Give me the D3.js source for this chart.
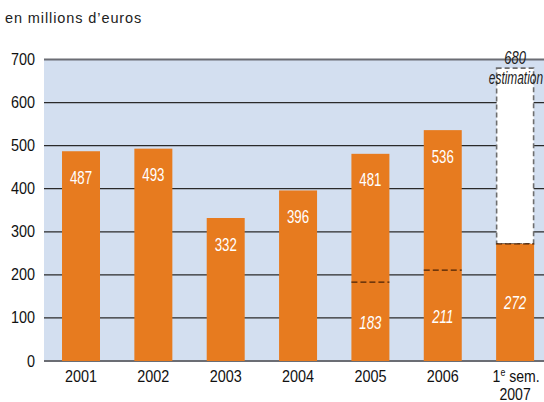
<!DOCTYPE html>
<html>
<head>
<meta charset="utf-8">
<script src="https://cdn.jsdelivr.net/npm/d3@7"></script>
<style>
  body { margin: 0; background: #fff; }
  svg { display: block; }
</style>
</head>
<body>
<svg id="chart" width="544" height="402"></svg>
<script>
// Data
const categories = ['2001', '2002', '2003', '2004', '2005', '2006', '2007S1'];
const totals = [487, 493, 332, 396, 481, 536, 272];
const subValues = [null, null, null, null, 183, 211, 272];
const estimation = 680;
const yTicks = [0, 100, 200, 300, 400, 500, 600, 700];

const ORANGE = '#e77b1f';
const BG = '#d3dff0';
const SANS = 'Arial, "Liberation Sans", sans-serif';

const svg = d3.select('#chart');
const margin = { top: 59.5, right: 0, bottom: 41, left: 44 };
const width = 544, height = 402;

// band geometry: step ~72.35px, bar ~38px
const step = 72.35, pInner = 0.475, pOuter = 0.249;
const x = d3.scaleBand()
  .domain(categories)
  .range([margin.left, margin.left + step * (categories.length - pInner + 2 * pOuter)])
  .paddingInner(pInner)
  .paddingOuter(pOuter);

const y = d3.scaleLinear()
  .domain([0, 700])
  .range([height - margin.bottom, margin.top]);

// horizontally squeezed text (condensed look)
function label(parent, px, py, txt, opts) {
  const o = Object.assign({ size: 16, sx: 0.9, anchor: 'middle', fill: '#111', style: 'normal', font: SANS }, opts);
  return parent.append('text')
    .attr('transform', `translate(${px},${py}) scale(${o.sx},1)`)
    .attr('text-anchor', o.anchor)
    .attr('font-family', o.font)
    .attr('font-size', o.size)
    .attr('font-style', o.style)
    .attr('fill', o.fill)
    .text(txt);
}

// unit label
svg.append('text')
  .attr('x', 5).attr('y', 23)
  .attr('font-family', SANS)
  .attr('font-size', 14.5)
  .attr('letter-spacing', 0.9)
  .attr('fill', '#222')
  .text('en millions d\u2019euros');

// plot background
svg.append('rect')
  .attr('x', margin.left).attr('y', y(700))
  .attr('width', width - margin.left).attr('height', y(0) - y(700))
  .attr('fill', BG);

// grid lines
svg.append('g')
  .selectAll('line')
  .data(yTicks)
  .join('line')
  .attr('x1', margin.left).attr('x2', width)
  .attr('y1', d => y(d)).attr('y2', d => y(d))
  .attr('stroke', d => (d === 0 || d === 700) ? '#6b6d74' : '#2a2a2a')
  .attr('stroke-width', d => (d === 0 || d === 700) ? 2 : 1.3);

// y axis labels
const yg = svg.append('g');
yTicks.forEach(t => label(yg, 35, y(t) + 5.5, t, { anchor: 'end' }));

// estimation box (last category)
const lastCat = categories[categories.length - 1];
svg.append('rect')
  .attr('x', x(lastCat) + 0.5).attr('y', y(estimation))
  .attr('width', x.bandwidth() - 1).attr('height', y(totals[6]) - y(estimation))
  .attr('fill', '#fff')
  .attr('stroke', '#6e6e6e')
  .attr('stroke-width', 1.6)
  .attr('stroke-dasharray', '5,3');

// bars
svg.append('g')
  .selectAll('rect')
  .data(categories)
  .join('rect')
  .attr('x', d => x(d))
  .attr('y', (d, i) => y(totals[i]))
  .attr('width', x.bandwidth())
  .attr('height', (d, i) => y(0) - y(totals[i]))
  .attr('fill', ORANGE);

// dashed separators for sub values
svg.append('g')
  .selectAll('line')
  .data(categories.filter((d, i) => subValues[i] !== null))
  .join('line')
  .attr('x1', d => x(d)).attr('x2', d => x(d) + x.bandwidth())
  .attr('y1', d => y(subValues[categories.indexOf(d)]))
  .attr('y2', d => y(subValues[categories.indexOf(d)]))
  .attr('stroke', '#4a2206')
  .attr('stroke-width', 1.3)
  .attr('stroke-dasharray', '6,3');

// total labels (not for the half-year bar)
const tg = svg.append('g');
categories.slice(0, 6).forEach((c, i) => {
  label(tg, x(c) + x.bandwidth() / 2, y(totals[i]) + 32.5, totals[i],
    { size: 19, sx: 0.7, fill: '#fff' });
});

// sub value labels (italic)
const sg = svg.append('g');
categories.forEach((c, i) => {
  if (subValues[i] === null) return;
  label(sg, x(c) + x.bandwidth() / 2, y(subValues[i] / 2) + 7, subValues[i],
    { size: 19, sx: 0.7, fill: '#fff', style: 'italic' });
});

// estimation labels
const ex = x(lastCat) + x.bandwidth() / 2;
label(svg, ex, y(estimation) - 4, estimation, { size: 18, sx: 0.72, fill: '#222', style: 'italic' });
label(svg, 543, y(estimation) + 16, 'estimation', { size: 18, sx: 0.66, fill: '#222', style: 'italic', anchor: 'end' });

// x axis labels
const xg = svg.append('g');
categories.forEach(c => {
  if (c === '2007S1') return;
  label(xg, x(c) + x.bandwidth() / 2, y(0) + 21, c);
});
const sem = label(xg, ex + 1, y(0) + 21, '', { sx: 0.88 });
sem.append('tspan').text('1');
sem.append('tspan').attr('font-size', 10).attr('dy', -6).text('e');
sem.append('tspan').attr('dy', 6).text('\u00a0sem.');
label(xg, ex, y(0) + 38.5, '2007', { sx: 0.88 });
</script>
</body>
</html>
